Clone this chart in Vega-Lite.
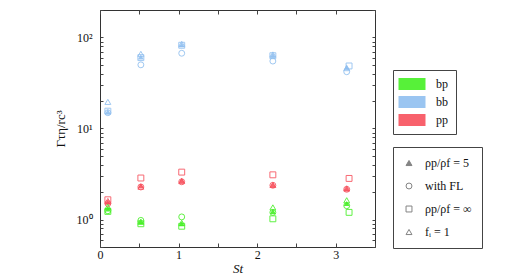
{
 "$schema": "https://vega.github.io/schema/vega-lite/v6.json",
 "width": 275, "height": 237,
 "autosize": {"type": "none"},
 "padding": {"left": 100, "top": 10, "right": 137, "bottom": 31},
 "background": "white",
 "config": {
  "view": {"stroke": "#333", "strokeWidth": 1},
  "font": "Liberation Serif",
  "axis": {"grid": false, "domain": false, "tickColor": "#444", "labelFont": "Liberation Serif", "labelFontSize": 12, "labelColor": "#111", "titleFont": "Liberation Serif", "titleFontSize": 13, "titleFontWeight": "normal", "titleColor": "#111"},
  "legend": {"labelFont": "Liberation Serif", "labelFontSize": 12, "labelColor": "#111", "strokeColor": "#444", "fillColor": "white", "cornerRadius": 0}
 },
 "data": {"values": [
  {"St": 0.1, "v": 15.3, "group": "bb", "type": "a"},
  {"St": 0.1, "v": 14.9, "group": "bb", "type": "b"},
  {"St": 0.1, "v": 15.5, "group": "bb", "type": "c"},
  {"St": 0.1, "v": 19.6, "group": "bb", "type": "d"},
  {"St": 0.52, "v": 61, "group": "bb", "type": "a"},
  {"St": 0.52, "v": 50, "group": "bb", "type": "b"},
  {"St": 0.52, "v": 60, "group": "bb", "type": "c"},
  {"St": 0.52, "v": 66, "group": "bb", "type": "d"},
  {"St": 1.04, "v": 83, "group": "bb", "type": "a"},
  {"St": 1.04, "v": 67, "group": "bb", "type": "b"},
  {"St": 1.04, "v": 82, "group": "bb", "type": "c"},
  {"St": 1.04, "v": 85, "group": "bb", "type": "d"},
  {"St": 2.2, "v": 64, "group": "bb", "type": "a"},
  {"St": 2.2, "v": 55, "group": "bb", "type": "b"},
  {"St": 2.2, "v": 63, "group": "bb", "type": "c"},
  {"St": 2.2, "v": 65, "group": "bb", "type": "d"},
  {"St": 3.14, "v": 47, "group": "bb", "type": "a"},
  {"St": 3.14, "v": 42, "group": "bb", "type": "b"},
  {"St": 3.17, "v": 48.6, "group": "bb", "type": "c"},
  {"St": 3.14, "v": 46, "group": "bb", "type": "d"},
  {"St": 0.1, "v": 1.55, "group": "pp", "type": "a"},
  {"St": 0.1, "v": 1.5, "group": "pp", "type": "b"},
  {"St": 0.1, "v": 1.65, "group": "pp", "type": "c"},
  {"St": 0.1, "v": 1.6, "group": "pp", "type": "d"},
  {"St": 0.52, "v": 2.35, "group": "pp", "type": "a"},
  {"St": 0.52, "v": 2.28, "group": "pp", "type": "b"},
  {"St": 0.52, "v": 2.86, "group": "pp", "type": "c"},
  {"St": 0.52, "v": 2.3, "group": "pp", "type": "d"},
  {"St": 1.04, "v": 2.69, "group": "pp", "type": "a"},
  {"St": 1.04, "v": 2.6, "group": "pp", "type": "b"},
  {"St": 1.04, "v": 3.32, "group": "pp", "type": "c"},
  {"St": 1.04, "v": 2.65, "group": "pp", "type": "d"},
  {"St": 2.2, "v": 2.41, "group": "pp", "type": "a"},
  {"St": 2.2, "v": 2.38, "group": "pp", "type": "b"},
  {"St": 2.2, "v": 3.1, "group": "pp", "type": "c"},
  {"St": 2.2, "v": 2.4, "group": "pp", "type": "d"},
  {"St": 3.14, "v": 2.18, "group": "pp", "type": "a"},
  {"St": 3.14, "v": 2.15, "group": "pp", "type": "b"},
  {"St": 3.17, "v": 2.83, "group": "pp", "type": "c"},
  {"St": 3.14, "v": 2.2, "group": "pp", "type": "d"},
  {"St": 0.1, "v": 1.31, "group": "bp", "type": "a"},
  {"St": 0.1, "v": 1.25, "group": "bp", "type": "b"},
  {"St": 0.1, "v": 1.23, "group": "bp", "type": "c"},
  {"St": 0.1, "v": 1.38, "group": "bp", "type": "d"},
  {"St": 0.52, "v": 0.94, "group": "bp", "type": "a"},
  {"St": 0.52, "v": 0.98, "group": "bp", "type": "b"},
  {"St": 0.52, "v": 0.9, "group": "bp", "type": "c"},
  {"St": 0.52, "v": 0.95, "group": "bp", "type": "d"},
  {"St": 1.04, "v": 0.9, "group": "bp", "type": "a"},
  {"St": 1.04, "v": 1.07, "group": "bp", "type": "b"},
  {"St": 1.04, "v": 0.845, "group": "bp", "type": "c"},
  {"St": 1.04, "v": 0.92, "group": "bp", "type": "d"},
  {"St": 2.2, "v": 1.23, "group": "bp", "type": "a"},
  {"St": 2.2, "v": 1.2, "group": "bp", "type": "b"},
  {"St": 2.2, "v": 1.02, "group": "bp", "type": "c"},
  {"St": 2.2, "v": 1.36, "group": "bp", "type": "d"},
  {"St": 3.14, "v": 1.5, "group": "bp", "type": "a"},
  {"St": 3.14, "v": 1.42, "group": "bp", "type": "b"},
  {"St": 3.17, "v": 1.2, "group": "bp", "type": "c"},
  {"St": 3.14, "v": 1.63, "group": "bp", "type": "d"}
 ]},
 "encoding": {
  "color": {"field": "group", "type": "nominal",
   "scale": {"domain": ["bp", "bb", "pp"], "range": ["#45f024", "#8fbff0", "#f7505c"]},
   "legend": {"orient": "none", "legendX": 293, "legendY": 60, "title": null, "padding": 8,
    "symbolType": "M-2.25,-1H2.25V1H-2.25Z", "symbolSize": 144, "symbolStrokeWidth": 0, "symbolOffset": 5, "labelOffset": 18, "rowPadding": 6,
    "symbolFillColor": {"expr": "datum.value == 'bp' ? '#55ff2e' : datum.value == 'bb' ? '#9ecaf6' : '#ff8a8e'"},
    "labelExpr": "datum.label + '\u00a0\u00a0\u00a0\u00a0\u00a0\u00a0\u00a0\u00a0\u00a0'"}},
  "shape": {"field": "type", "type": "nominal",
   "scale": {"domain": ["a", "b", "c", "d"], "range": ["triangle-up", "circle", "square", "triangle-up"]},
   "legend": {"orient": "none", "legendX": 293, "legendY": 137, "title": null, "padding": 10,
    "symbolSize": 35, "symbolStrokeColor": "#777", "symbolStrokeWidth": 1, "labelOffset": 10, "rowPadding": 11,
    "symbolFillColor": {"expr": "datum.value == 'a' ? '#777' : 'transparent'"},
    "labelExpr": "datum.value == 'a' ? 'ρp/ρf = 5' : datum.value == 'b' ? 'with FL' : datum.value == 'c' ? 'ρp/ρf = ∞' : 'fᵢ = 1'"}}
 },
 "layer": [
  {"transform": [{"filter": "datum.type == 'a'"}],
   "mark": {"type": "point", "filled": true, "size": 35, "opacity": 0.9},
   "encoding": {
    "x": {"field": "St", "type": "quantitative", "scale": {"domain": [0, 3.5], "nice": false},
     "axis": {"orient": "bottom", "values": [0, 0.5, 1, 1.5, 2, 2.5, 3, 3.5], "labelExpr": "datum.value % 1 == 0 ? '' + datum.value : ''", "tickSize": -4, "labelPadding": 6, "title": "St", "titleFontStyle": "italic", "titlePadding": 2, "labelFlush": false}},
    "y": {"field": "v", "type": "quantitative", "scale": {"type": "log", "domain": [0.5, 200], "nice": false},
     "axis": {"orient": "left", "values": [0.5, 0.6, 0.7, 0.8, 0.9, 1, 2, 3, 4, 5, 6, 7, 8, 9, 10, 20, 30, 40, 50, 60, 70, 80, 90, 100, 200], "labelExpr": "datum.value == 1 ? '10⁰' : datum.value == 10 ? '10¹' : datum.value == 100 ? '10²' : ''", "tickSize": -3, "labelPadding": 11, "title": "Γτη/rc³", "titlePadding": 9, "labelFlush": false}}
   }},
  {"transform": [{"filter": "datum.type != 'a'"}],
   "mark": {"type": "point", "filled": false, "size": 35, "strokeWidth": 1, "opacity": 0.85},
   "encoding": {
    "x": {"field": "St", "type": "quantitative",
     "axis": {"orient": "top", "values": [0, 0.5, 1, 1.5, 2, 2.5, 3, 3.5], "labels": false, "tickSize": -4, "title": null}},
    "y": {"field": "v", "type": "quantitative",
     "axis": {"orient": "right", "values": [0.5, 0.6, 0.7, 0.8, 0.9, 1, 2, 3, 4, 5, 6, 7, 8, 9, 10, 20, 30, 40, 50, 60, 70, 80, 90, 100, 200], "labels": false, "tickSize": -3, "title": null}}
   }}
 ],
 "resolve": {"axis": {"x": "independent", "y": "independent"}}
}
